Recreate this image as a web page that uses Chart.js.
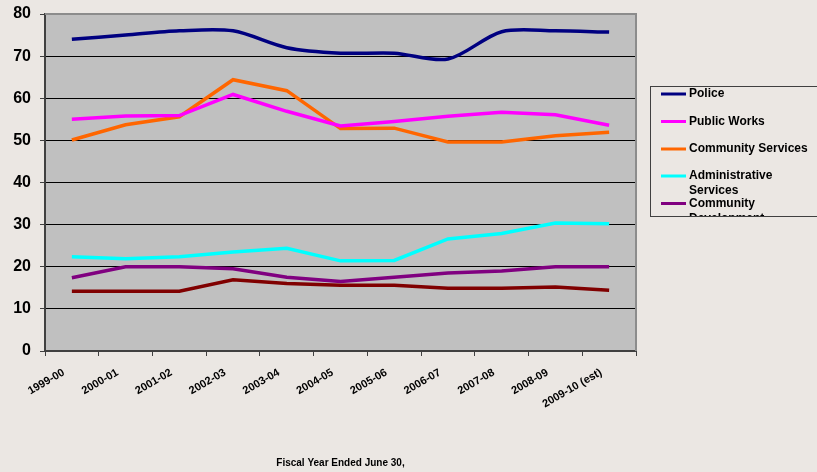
<!DOCTYPE html>
<html>
<head>
<meta charset="utf-8">
<script src="https://cdn.jsdelivr.net/npm/chart.js@4/dist/chart.umd.min.js"></script>
<style>
  html, body { margin: 0; padding: 0; background: #ebe7e3; }
  #wrap { width: 817px; height: 472px; position: relative; }
</style>
</head>
<body>
<div id="wrap"><canvas id="chart"></canvas></div>
<script>
// fiscal years and staffing by department
const years = ['1999-00', '2000-01', '2001-02', '2002-03', '2003-04', '2004-05',
               '2005-06', '2006-07', '2007-08', '2008-09', '2009-10 (est)'];
const police        = [74, 75, 76, 76, 72, 70.7, 70.7, 69.3, 75.8, 76, 75.7];
const publicWorks   = [55, 55.8, 55.9, 60.9, 56.9, 53.4, 54.5, 55.7, 56.7, 56.1, 53.6];
const commServices  = [50.1, 53.7, 55.6, 64.4, 61.8, 52.8, 52.9, 49.6, 49.6, 51.1, 51.9];
const adminServices = [22.4, 21.9, 22.4, 23.5, 24.4, 21.4, 21.5, 26.6, 27.9, 30.4, 30.2];
const commDev       = [17.4, 20, 20, 19.5, 17.5, 16.5, 17.5, 18.5, 19, 20, 20];
const other         = [14.2, 14.2, 14.2, 16.9, 16, 15.6, 15.6, 14.9, 14.9, 15.2, 14.4];
const seriesNames = ['Police', 'Public Works', 'Community Services',
                     'Administrative Services', 'Community Development', 'Other'];
const yTicks = [0, 10, 20, 30, 40, 50, 60, 70, 80];

const FONT = '"Liberation Sans", Arial, sans-serif';

// grey plot area with a thin frame
const plotBg = {
    id: 'plotBg',
    beforeDraw(chart) {
        const { ctx, chartArea: a } = chart;
        ctx.save();
        ctx.fillStyle = '#c0c0c0';
        ctx.fillRect(a.left, a.top, a.right - a.left, a.bottom - a.top);
        ctx.restore();
    },
    beforeDatasetsDraw(chart) {
        const { ctx, chartArea: a } = chart;
        ctx.save();
        ctx.strokeStyle = '#8c8c8c';
        ctx.lineWidth = 2;
        ctx.beginPath();
        ctx.moveTo(a.left, a.top);
        ctx.lineTo(a.right, a.top);
        ctx.lineTo(a.right, a.bottom);
        ctx.stroke();
        ctx.restore();
    }
};

// legend box like the original, cut off at the bottom
const boxLegend = {
    id: 'boxLegend',
    afterDraw(chart) {
        const { ctx } = chart;
        const bx = 650, by = 86, bw = 180, bh = 130;
        ctx.save();
        ctx.strokeStyle = '#404040';
        ctx.lineWidth = 1;
        ctx.strokeRect(bx + 0.5, by + 0.5, bw, bh);
        ctx.beginPath();
        ctx.rect(bx + 1, by + 1, bw - 1, bh - 1);
        ctx.clip();
        ctx.font = 'bold 12px ' + FONT;
        ctx.textBaseline = 'middle';
        ctx.fillStyle = '#000';
        const rows = [94, 121.5, 149, 176, 203.5, 231];
        const wraps = {
            'Administrative Services': ['Administrative', 'Services'],
            'Community Development': ['Community', 'Development']
        };
        chart.data.datasets.forEach((ds, i) => {
            const y = rows[i];
            ctx.strokeStyle = ds.borderColor;
            ctx.lineWidth = 3;
            ctx.beginPath();
            ctx.moveTo(661, y);
            ctx.lineTo(686, y);
            ctx.stroke();
            const lines = wraps[ds.label] || [ds.label];
            lines.forEach((t, k) => ctx.fillText(t, 689, y + k * 15));
        });
        ctx.restore();
    }
};

const mk = (label, data, color, extra) => Object.assign({
    label, data,
    borderColor: color,
    backgroundColor: color,
    borderWidth: 3.5,
    pointRadius: 0,
    tension: 0,
    fill: false
}, extra || {});

new Chart(document.getElementById('chart'), {
    type: 'line',
    data: {
        labels: years,
        datasets: [
            mk(seriesNames[0], police, '#000080', { tension: 0.3 }),
            mk(seriesNames[1], publicWorks, '#ff00ff'),
            mk(seriesNames[2], commServices, '#ff6600'),
            mk(seriesNames[3], adminServices, '#00ffff'),
            mk(seriesNames[4], commDev, '#800080'),
            mk(seriesNames[5], other, '#800000')
        ]
    },
    options: {
        responsive: true,
        maintainAspectRatio: false,
        animation: false,
        layout: { padding: { top: 14, right: 181, left: 0, bottom: 0 } },
        plugins: {
            legend: { display: false },
            tooltip: { enabled: false }
        },
        scales: {
            x: {
                offset: true,
                afterFit(s) { s.height = 121; },
                grid: {
                    offset: true,
                    drawOnChartArea: false,
                    tickLength: 5,
                    tickColor: '#404040'
                },
                border: { color: '#404040', width: 2 },
                ticks: {
                    autoSkip: false,
                    minRotation: 30,
                    maxRotation: 30,
                    padding: 10,
                    labelOffset: -8,
                    color: '#000',
                    font: { family: FONT, size: 11, weight: 'bold' }
                },
                title: {
                    display: true,
                    text: 'Fiscal Year Ended June 30,',
                    color: '#000',
                    font: { family: FONT, size: 10, weight: 'bold' },
                    padding: { top: 0, bottom: 3 }
                }
            },
            y: {
                min: 0,
                max: 80,
                afterFit(s) {
                    s.width = 45;
                    s.paddingTop = 0;
                    s.paddingBottom = 0;
                },
                afterBuildTicks(s) { s.ticks = yTicks.map(v => ({ value: v })); },
                grid: {
                    color: c => (c.tick && (c.tick.value === 80 || c.tick.value === 0)) ? 'rgba(0,0,0,0)' : '#000',
                    lineWidth: 1,
                    tickLength: 5,
                    tickColor: '#404040'
                },
                border: { color: '#404040', width: 2 },
                ticks: {
                    padding: 9,
                    color: '#000',
                    font: { family: FONT, size: 16, weight: 'bold' }
                }
            }
        }
    },
    plugins: [plotBg, boxLegend]
});
</script>
</body>
</html>
